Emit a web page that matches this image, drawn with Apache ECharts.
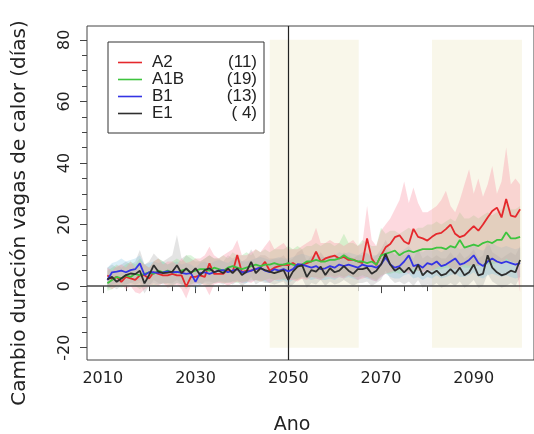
<!DOCTYPE html>
<html>
<head>
<meta charset="utf-8">
<title>Cambio duración vagas de calor</title>
<script src="https://cdn.jsdelivr.net/npm/echarts@6/dist/echarts.min.js"></script>
<style>
  html, body { margin: 0; padding: 0; background: #ffffff; }
  #chart { width: 534px; height: 434px; }
</style>
</head>
<body>
<div id="chart"></div>
<script>
// Years covered by every series: 2011 .. 2100
const firstYear = 2011;

// Scenario names and number of runs shown in the legend
const scenarios = ['A2', 'A1B', 'B1', 'E1'];
const runCounts = ['(11)', '(19)', '(13)', '( 4)'];

// Ensemble means (days)
const meanA2 = [
  3.5, 2.2, 3, 1.4, 3, 2.5, 2, 3.5, 3.5, 2.5,
  4.5, 4, 3.5, 3.5, 4, 3.5, 3.5, -0.2, 3, 3,
  3.5, 3, 7.4, 4, 4, 4, 5.5, 4.5, 10.1, 4.5,
  5, 5, 5.5, 6, 7.9, 5, 6, 6.5, 7, 6.8,
  7.5, 6.5, 7, 7.5, 8, 11.2, 8, 9, 9.5, 9.9,
  9, 9.5, 8.5, 8.6, 8, 7.5, 15.5, 9, 6.8, 9.9,
  12.6, 13.7, 15.9, 16.5, 14.5, 13.7, 18.6, 16, 15.5, 14.8,
  16, 17, 17.3, 18.5, 20, 17, 15.9, 16.5, 18, 19.5,
  18, 20, 22.3, 24.4, 25.5, 22.3, 28.3, 22.9, 22.5, 25
];
const meanA1B = [
  0.9, 2, 3, 2.5, 3.5, 3, 4, 3.5, 4, 4.5,
  4, 5, 4.5, 5, 4.5, 4.5, 5, 5.5, 4.5, 5,
  5.5, 5.5, 5, 6, 5.5, 5, 6, 6.5, 6, 5.5,
  6, 6.5, 7, 6.5, 7, 7, 7.5, 7, 7, 7.5,
  7, 6.5, 7, 8, 8, 8.5, 8, 8, 8.5, 8.5,
  9, 10, 9, 8.5, 8, 8, 7.5, 8, 7, 10,
  10.5, 11, 11.5, 10, 11, 11.5, 11, 11.5, 12, 12,
  12, 12.5, 12.5, 12, 13, 12.5, 15, 12.5, 13, 13.5,
  13, 14, 14.5, 14, 15, 15, 17.5, 15.5, 15.5, 16
];
const meanB1 = [
  2, 4.5, 4.7, 5, 4.5, 5.2, 5.5, 7.4, 3.6, 4.5,
  4.5, 4.3, 4.5, 4.8, 4.5, 4.6, 4.3, 4, 4.2, 1.4,
  4.2, 4.5, 4, 4.5, 5, 5.2, 4.5, 5, 5.5, 4.5,
  4.5, 5, 5.5, 6, 5, 4.5, 5.5, 5, 5.5, 4.8,
  5.5, 7.1, 7, 6.5, 6, 6.5, 5.5, 5.8, 6.5, 6,
  7, 6.5, 7, 6.5, 6, 7, 6.5, 6.5, 6, 7,
  9.3, 7, 6, 6.5, 8, 10, 6.5, 7, 6, 7.5,
  7, 8, 6.5, 7, 8, 9, 7, 7.5, 8.5, 10,
  7.5, 6.5, 8, 9, 8, 7.5, 8, 7.5, 7, 7.5
];
const meanE1 = [
  2.2, 3, 1.4, 2.5, 3.6, 4.1, 3.9, 5, 0.9, 3.6,
  6.8, 4.7, 4.2, 4.4, 4.7, 6.8, 4.2, 5.8, 4.2, 5.8,
  3.6, 5.2, 5.8, 4.5, 5, 4.2, 5.8, 4.2, 5.8, 3.6,
  4.7, 7.9, 4.2, 5.8, 5.2, 4.7, 4.2, 4.7, 5.2, 2,
  4.7, 6.3, 6.8, 3, 5.2, 4.7, 6.3, 3.6, 5.8, 4.5,
  5, 6.5, 5, 4, 5.5, 5.5, 6, 4, 5, 7,
  10.5, 7, 5, 6, 4.5, 6, 4, 7, 3.5, 5,
  4, 5, 3.5, 4, 5.5, 4, 6, 3.5, 4.5, 7,
  3.5, 4, 10, 6, 4.5, 3.5, 4, 5, 4.5, 8.5
];

// Ensemble spread: upper and lower bounds per scenario
const hiA2 = [
  6, 5, 6.5, 7, 6, 8, 6, 8, 7, 6,
  8, 9, 7, 8, 8, 7, 9, 7.5, 8, 9,
  9, 10, 12.8, 10, 9, 10, 11, 12, 15, 10,
  10, 11, 12, 11, 13, 15, 12, 13, 14, 12,
  12, 12, 13, 14, 15, 19, 14, 14, 15, 14,
  14, 13, 14, 15, 13, 14, 26, 15, 13, 18,
  20, 22, 25, 28, 34, 27, 32, 27, 24, 24,
  25, 26, 28, 31, 26, 24, 28, 33, 38, 30,
  35, 29, 33, 39, 30, 34, 45, 33, 35, 33
];
const loA2 = [
  0, -1, 0, 0.5, -1, 0, -2, -2.5, -1, 0,
  0.5, 0, 1, -0.5, 0, 0.5, -1, -4, 0, 0.5,
  1, 0, -3, 0.5, 1, 1, 0, 1, 1.5, 1,
  1.5, 1, 2, 1.5, 2, 1, 2, 2, 2.5, 2,
  2, 1.5, 2.5, 2, 3, 2.5, 2, 3, 3, 2.5,
  3, 2.5, 3.5, 3, 2, 2.5, 3, 2, 1.5, 3,
  4, 4.5, 5, 5.5, 5, 4, 6, 5, 4.5, 5,
  5, 6, 6.5, 7, 6, 5.5, 6, 7, 6.5, 7,
  6.5, 7, 8, 8, 7.5, 7, 9, 8, 7.5, -2
];
const hiA1B = [
  5, 6, 7, 6, 7, 8, 7, 9, 7, 6,
  8, 9, 8, 7, 8, 9, 8, 10, 10, 9,
  8, 9, 10, 9, 9, 10, 9, 11, 10, 10,
  11, 10, 12, 11, 12, 11, 12, 12, 12, 13,
  12, 13, 12, 13, 13, 14, 13, 14, 14, 13,
  14, 17, 14, 14, 13, 15, 14, 13, 13, 19,
  17, 18, 18, 17, 18, 19, 18, 19, 19, 20,
  20, 21, 20, 21, 22, 21, 24, 22, 22, 23,
  22, 23, 24, 23, 24, 25, 27, 25, 25, 26
];
const loA1B = [
  -1.5, -1, 0, -0.5, 0, 0.5, 0, -1, 0, 0.5,
  0, 0.5, 1, 0.5, 0, 1, 0.5, -1, 0.5, 1,
  1, 0.5, 0, 1, 1.5, 1, 1, 1.5, 1, 1.5,
  1.5, 2, 2, 1.5, 2, 2.5, 2, 2.5, 2, 2.5,
  2.5, 2, 3, 2.5, 3, 3, 2.5, 3, 3.5, 3,
  3.5, 3, 3.5, 3, 3, 3.5, 3, 2.5, 2, 3.5,
  4, 4, 4.5, 4, 4.5, 5, 4.5, 5, 5, 5.5,
  5, 5.5, 5.5, 6, 6, 5.5, 6.5, 6, 6, 6.5,
  6.5, 7, 7, 7, 7.5, 7.5, 8, 8, 7.5, 8
];
const hiB1 = [
  6, 7.5, 8, 9, 8, 8.5, 9, 10, 7, 7.5,
  8, 7.5, 8, 7, 7.5, 8, 7, 7.5, 7, 6,
  7.5, 8, 7, 8, 8.5, 8, 7.5, 8.5, 9, 8,
  8, 8.5, 9, 9.5, 9, 8.5, 9, 9.5, 9, 9,
  9.5, 10, 10.5, 10, 9.5, 10, 9.5, 9.5, 10, 10,
  11, 10.5, 11, 10.5, 10, 11, 10.5, 10, 10, 11,
  12, 11, 10.5, 11, 12, 13, 11, 11.5, 11, 12,
  11.5, 12, 11, 12, 13, 13, 12, 12.5, 13, 14,
  12, 11.5, 13, 14, 13, 12.5, 13, 12.5, 12, 12.5
];
const loB1 = [
  -0.5, 0.5, 1, 1, 0.5, 1, 1.5, 2, 0, 0.5,
  1, 0.5, 1, 1, 0.5, 1, 0.5, 0, 0.5, -1,
  0.5, 1, 0.5, 1, 1.5, 1.5, 1, 1.5, 2, 1,
  1, 1.5, 2, 2, 1.5, 1, 2, 1.5, 2, 1,
  2, 2.5, 3, 2.5, 2, 2.5, 2, 2, 2.5, 2,
  3, 2.5, 3, 2.5, 2, 3, 2.5, 2, 1.5, 3,
  4, 3, 2.5, 2.5, 3.5, 4, 2.5, 3, 2, 3,
  2.5, 3.5, 2.5, 3, 3.5, 4, 3, 3, 3.5, 4.5,
  3, 2.5, 3.5, 4, 3.5, 3, 3.5, 3, 2.5, 3
];
const hiE1 = [
  6, 7, 6, 7, 8, 7, 8, 11.7, 7, 8,
  10.6, 9, 8, 9, 10, 16.6, 9, 10, 9, 8,
  8, 9, 10, 9, 9, 8, 10, 9, 10, 8,
  9, 12, 9, 10, 10, 9, 9, 9, 10, 8,
  9, 11, 12, 8, 10, 9, 11, 9, 10, 9,
  9, 11, 10, 9, 10, 10, 11, 9, 10, 12,
  15, 12, 10, 11, 10, 11, 9, 12, 9, 10,
  9, 10, 9, 9, 11, 9, 11, 9, 10, 12,
  9, 10, 15, 11, 10, 9, 10, 11, 10, 13
];
const loE1 = [
  -1, 0, -1, 0, 0.5, 1, 0.5, 1, -2.4, 0,
  2, 1, 0.5, 1, 1, 2, 0.5, 1.5, 0.5, 1.5,
  0, 1.5, 1.5, 1, 1, 0.5, 1.5, 0.5, 1.5, 0,
  1, 3, 0.5, 1.5, 1, 1, 0.5, 1, 1.5, -1,
  0.5, 2, 2.5, -0.5, 1, 0.5, 2, 0, 1.5, 0.5,
  1, 2, 1, 0, 1, 1, 1.5, 0, 1, 2,
  5, 2.5, 1, 1.5, 0.5, 1.5, 0, 2, -0.5, 0.5,
  0, 1, -0.5, 0, 1, 0, 1.5, -0.5, 0.5, 2,
  -0.5, 0, 4, 1.5, 0.5, -0.5, 0, 1, 0, 3
];

// Shaded analysis periods (years)
const periodStart = [2046, 2081];
const periodEnd = [2065.2, 2100.4];
// Reference year marked with a vertical line
const refYear = 2050;

// Axis ticks and labels
const xLabelValues = [2010, 2030, 2050, 2070, 2090];
const xMinorTicks = [2010, 2015, 2020, 2025, 2030, 2035, 2040, 2045, 2050, 2055, 2060, 2065, 2070, 2075, 2080, 2085, 2090, 2095, 2100];
const yLabelValues = [-20, 0, 20, 40, 60, 80];
const yMinorTicks = [-20, -15, -10, -5, 0, 5, 10, 15, 20, 25, 30, 35, 40, 45, 50, 55, 60, 65, 70, 75, 80];

const lineColors = { A2: '#e5282c', A1B: '#3ec43e', B1: '#3434e4', E1: '#2e2e2e' };
const bandColors = {
  A2: 'rgba(250, 150, 165, 0.36)',
  A1B: 'rgba(120, 215, 120, 0.26)',
  B1: 'rgba(120, 195, 225, 0.28)',
  E1: 'rgba(150, 150, 150, 0.26)'
};

function pairs(values) {
  return values.map((v, i) => [firstYear + i, v]);
}

const chart = echarts.init(document.getElementById('chart'), null, { renderer: 'canvas' });

const axisFont = { fontFamily: 'DejaVu Sans', fontSize: 16, color: '#222' };

const series = [];

// Envelopes (min..max of the runs), drawn first so the mean lines sit on top.
// Each envelope is one polygon: upper bound left to right, lower bound back.
const envelopes = [
  ['E1', hiE1, loE1],
  ['B1', hiB1, loB1],
  ['A1B', hiA1B, loA1B],
  ['A2', hiA2, loA2]
];
envelopes.forEach(([name, hi, lo], k) => {
  const rows = hi.map((h, i) => [firstYear + i, h, lo[i]]);
  const s = {
    type: 'custom',
    name: 'env' + name,
    silent: true,
    z: 2,
    encode: { x: 0, y: [1, 2] },
    data: rows,
    renderItem: (params, api) => {
      if (params.dataIndex !== 0) return null;
      const pts = [];
      rows.forEach((r) => pts.push(api.coord([r[0], r[1]])));
      for (let i = rows.length - 1; i >= 0; i--) pts.push(api.coord([rows[i][0], rows[i][2]]));
      return {
        type: 'polygon',
        shape: { points: pts },
        style: { fill: bandColors[name], stroke: null }
      };
    }
  };
  if (k === 0) {
    s.markArea = {
      silent: true,
      itemStyle: { color: '#f9f7ea' },
      data: periodStart.map((st, i) => [
        { xAxis: st, yAxis: yLabelValues[0] },
        { xAxis: periodEnd[i], yAxis: yLabelValues[yLabelValues.length - 1] }
      ])
    };
  }
  series.push(s);
});

// Ensemble mean lines
const means = { A2: meanA2, A1B: meanA1B, B1: meanB1, E1: meanE1 };
scenarios.forEach((name) => {
  const s = {
    type: 'line',
    name: name,
    data: pairs(means[name]),
    symbol: 'none',
    showSymbol: false,
    z: 5,
    color: lineColors[name],
    lineStyle: { width: 1.8, color: lineColors[name] }
  };
  if (name === 'E1') {
    s.markLine = {
      silent: true,
      symbol: 'none',
      label: { show: false },
      data: [
        { xAxis: refYear, lineStyle: { color: '#222', width: 1.2, type: 'solid' } },
        { yAxis: 0, lineStyle: { color: '#444', width: 1.5, type: 'solid' } }
      ]
    };
  }
  series.push(s);
});

const option = {
  animation: false,
  backgroundColor: '#ffffff',
  grid: {
    left: 87, top: 26, width: 452, height: 334,
    show: true, borderColor: '#444', borderWidth: 1, backgroundColor: 'transparent',
    containLabel: false
  },
  xAxis: [
    {
      type: 'value', min: 2006.6, max: 2103, position: 'bottom',
      axisLine: { show: false },
      splitLine: { show: false },
      axisTick: { show: true, length: 7, customValues: xLabelValues, lineStyle: { color: '#444' } },
      axisLabel: Object.assign({ customValues: xLabelValues, margin: 11, formatter: (v) => String(v) }, axisFont)
    },
    {
      type: 'value', min: 2006.6, max: 2103, position: 'bottom',
      axisLine: { show: false },
      splitLine: { show: false },
      axisTick: { show: true, length: 5, customValues: xMinorTicks, lineStyle: { color: '#444' } },
      axisLabel: { show: false }
    }
  ],
  yAxis: [
    {
      type: 'value', min: -24, max: 84.5, position: 'left',
      axisLine: { show: false },
      splitLine: { show: false },
      axisTick: { show: true, length: 7, customValues: yLabelValues, lineStyle: { color: '#444' } },
      axisLabel: Object.assign({ customValues: yLabelValues, rotate: 90, margin: 14, formatter: (v) => String(v) }, axisFont)
    },
    {
      type: 'value', min: -24, max: 84.5, position: 'left',
      axisLine: { show: false },
      splitLine: { show: false },
      axisTick: { show: true, length: 5, customValues: yMinorTicks, lineStyle: { color: '#444' } },
      axisLabel: { show: false }
    }
  ],
  legend: {
    data: scenarios,
    orient: 'vertical',
    left: 108, top: 42,
    padding: [12, 7, 11, 10],
    icon: 'rect',
    itemWidth: 24, itemHeight: 1.6, itemGap: 0,
    borderColor: '#333', borderWidth: 1, borderRadius: 0,
    backgroundColor: '#ffffff',
    selectedMode: false,
    formatter: (name) => '{n|' + name + '}{c|' + runCounts[scenarios.indexOf(name)] + '}',
    textStyle: {
      fontFamily: 'Liberation Sans', fontSize: 17, lineHeight: 15.5, color: '#222',
      rich: {
        n: { width: 63, padding: [0, 0, 0, 5], fontFamily: 'Liberation Sans', fontSize: 17, lineHeight: 15.5, color: '#222' },
        c: { width: 42, align: 'right', fontFamily: 'Liberation Sans', fontSize: 17, lineHeight: 15.5, color: '#222' }
      }
    }
  },
  graphic: [
    {
      type: 'text', x: 20, y: 213, rotation: Math.PI / 2,
      style: {
        text: 'Cambio duración vagas de calor (días)',
        fontFamily: 'DejaVu Sans', fontSize: 20, fill: '#222',
        align: 'center', verticalAlign: 'middle'
      }
    },
    {
      type: 'text', x: 292, y: 425,
      style: {
        text: 'Ano', fontFamily: 'DejaVu Sans', fontSize: 19, fill: '#222',
        align: 'center', verticalAlign: 'middle'
      }
    }
  ],
  series: series
};

chart.setOption(option);
</script>
</body>
</html>
